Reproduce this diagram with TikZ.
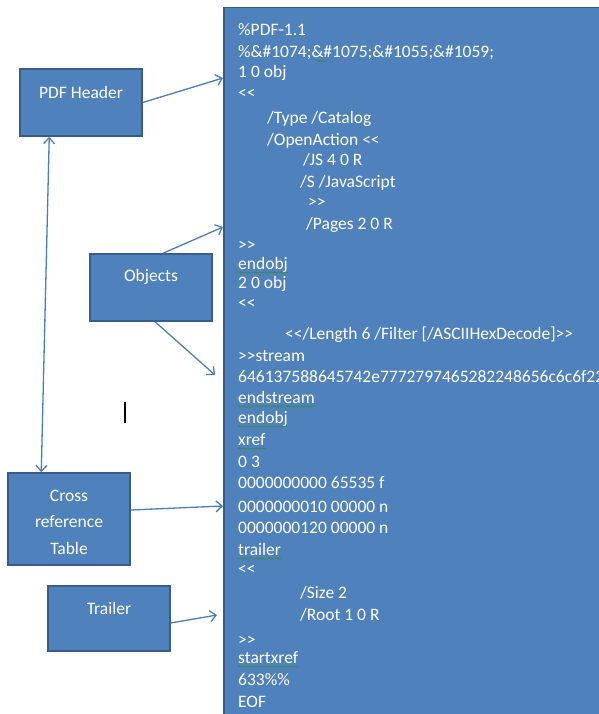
\documentclass[tikz,border=0pt]{standalone}
\usepackage{fontspec}
\newfontfamily\calfont{Carlito}[Ligatures=TeXOff]
\usetikzlibrary{arrows.meta,calc,decorations.pathmorphing}
\definecolor{boxfill}{HTML}{4F81BD}
\definecolor{boxline}{HTML}{385D8A}
\definecolor{arrcol}{HTML}{4A7EBB}
\definecolor{squigcol}{HTML}{3A8A3A}
\tikzset{
  box/.style={draw=boxline, line width=1.5pt, fill=boxfill, inner sep=0pt},
  lbl/.style={text=white, font=\calfont\fontsize{17.5}{26.5}\selectfont, align=center, inner sep=0pt},
  code/.style={text=white, font=\calfont\fontsize{17.5}{21}\selectfont, anchor=base west, inner sep=0pt},
  arr/.style={draw=arrcol, line width=1.3pt, -{Straight Barb[length=6pt,width=11pt,line width=1.3pt]}},
  dblarr/.style={draw=arrcol, line width=1.3pt, {Straight Barb[length=6pt,width=11pt,line width=1.3pt]}-{Straight Barb[length=6pt,width=11pt,line width=1.3pt]}},
  squig/.style={draw=squigcol, line width=0.6pt, decorate, decoration={snake, segment length=3pt, amplitude=0.6pt}}
}
\begin{document}
\begin{tikzpicture}[x=1pt, y=-1pt]
\useasboundingbox (0,0) rectangle (598,714);
\fill[white] (0,0) rectangle (598,714);

% big document box
\node[box, minimum width=400pt, minimum height=720pt, anchor=north west] (doc) at (223,7) {};

% left boxes
\node[box, minimum width=122pt, minimum height=67pt] (hdr) at (81,102.5) {};
\node[lbl] (hdrt) at (81,92) {PDF Header};
\node[box, minimum width=122pt, minimum height=67pt] (obj) at (151,287.5) {};
\node[lbl] (objt) at (151,277) {Objects};
\node[box, minimum width=122pt, minimum height=92pt] (xref) at (69,519) {};
\node[lbl] (xreft) at (69,522) {Cross\\reference\\Table};
\node[box, minimum width=122pt, minimum height=65pt] (trl) at (109,618.5) {};
\node[lbl] (trlt) at (109,608) {Trailer};

% code text
\begin{scope}
\clip (223,7) rectangle (598,714);
\node[code] (l1) at (238,35.5) {\%PDF-1.1};
\node[code] (l2) at (238,57.5) {\%\&\#1074;\&\#1075;\&\#1055;\&\#1059;};
\node[code] (l3) at (238,77.5) {1 0 obj};
\node[code] (l4) at (238,98.5) {<<};
\node[code] (l5) at (267,123.5) {/Type /Catalog};
\node[code] (l6) at (267,145.5) {/OpenAction <<};
\node[code] (l7) at (303,165.5) {/JS 4 0 R};
\node[code] (l8) at (300,187.5) {/S /JavaScript};
\node[code] (l9) at (308,207.5) {>>};
\node[code] (l10) at (306,229.5) {/Pages 2 0 R};
\node[code] (l11) at (238,250.5) {>>};
\node[code] (l12) at (238,269.5) {endobj};
\node[code] (l13) at (238,288.5) {2 0 obj};
\node[code] (l14) at (238,308.5) {<<};
\node[code] (l15) at (285,339.5) {<</Length 6 /Filter [/ASCIIHexDecode]>>};
\node[code] (l16) at (238,361.5) {>>stream};
\node[code] (l17) at (238,382.5) {646137588645742e7772797465282248656c6c6f222};
\node[code] (l18) at (238,403.5) {endstream};
\node[code] (l19) at (238,423.5) {endobj};
\node[code] (l20) at (238,445.5) {xref};
\node[code] (l21) at (238,467.5) {0 3};
\node[code] (l22) at (238,488.5) {0000000000 65535 f};
\node[code] (l23) at (238,512.5) {0000000010 00000 n};
\node[code] (l24) at (238,533.5) {0000000120 00000 n};
\node[code] (l25) at (238,555.5) {trailer};
\node[code] (l26) at (238,574.5) {<<};
\node[code] (l27) at (300,598.5) {/Size 2};
\node[code] (l28) at (300,620.5) {/Root 1 0 R};
\node[code] (l29) at (238,645.5) {>>};
\node[code] (l30) at (238,663.5) {startxref};
\node[code] (l31) at (238,685.5) {633\%\%};
\node[code] (l32) at (238,707.5) {EOF};
\end{scope}

% spell-check squiggles
\foreach \n in {l12,l18,l19,l20,l25,l30}{
  \draw[squig] ([yshift=-3pt]\n.base west) -- ([yshift=-3pt]\n.base east);
}
\draw[squig] (316,61) -- (326,61);

% cursor
\draw[line width=2.5pt] (125,402) -- (125,423);

% arrow targets
\coordinate (t1) at (223,78);
\coordinate (t2) at (223,227);
\coordinate (t3) at (215,375);
\coordinate (t5) at (223,506);
\coordinate (t6) at (217,615);

\draw[arr] (hdr.east) -- (t1);
\draw[arr] ($(obj.north)+(12,0)$) -- (t2);
\draw[arr] ($(obj.south)+(4,0)$) -- (t3);
\draw[dblarr] ($(hdr.south west)+(30,0)$) -- ($(xref.north west)+(34,0)$);
\draw[arr] ($(xref.east)+(0,-9)$) -- (t5);
\draw[arr] ($(trl.east)+(0,4.5)$) -- (t6);
\end{tikzpicture}
\end{document}
